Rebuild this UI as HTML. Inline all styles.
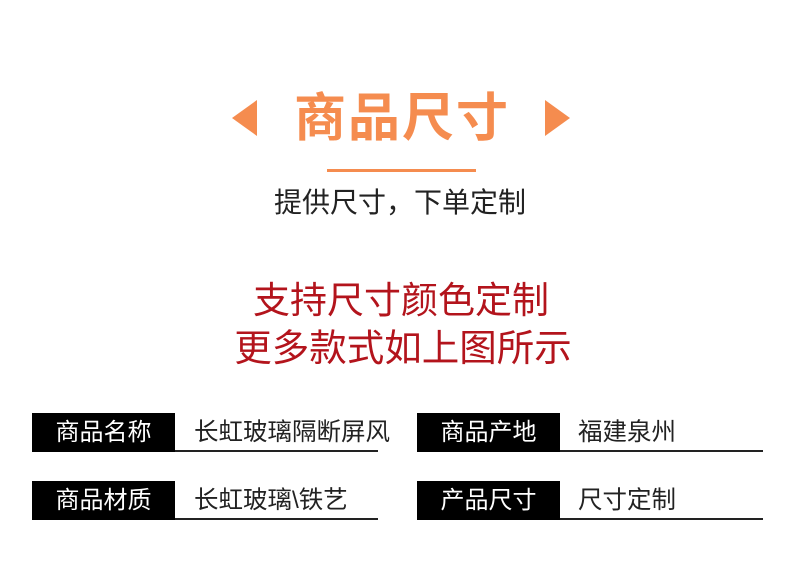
<!DOCTYPE html>
<html><head><meta charset="utf-8"><style>
body{margin:0;width:790px;height:561px;background:#fff;position:relative;overflow:hidden;font-family:"Liberation Sans","Noto Sans CJK SC",sans-serif}
.a{position:absolute}
.c{position:absolute;left:0;width:790px;text-align:center;white-space:nowrap}
.box{position:absolute;background:#000;color:#fff;font-size:24px;line-height:39px;text-align:center;width:143px;height:39px}
.val{position:absolute;font-size:24.5px;color:#222;line-height:39px;white-space:nowrap}
.ln{position:absolute;height:2px;background:#222}
</style></head><body>
<div class="a" style="left:232px;top:100px;width:0;height:0;border-top:18px solid transparent;border-bottom:18px solid transparent;border-right:25px solid #f58c4f"></div>
<div class="a" style="left:545px;top:100px;width:0;height:0;border-top:18px solid transparent;border-bottom:18px solid transparent;border-left:25px solid #f58c4f"></div>
<div class="c" style="top:84px;left:7px;font-size:52px;letter-spacing:2px;line-height:70px;color:#f58c4f;font-weight:bold">商品尺寸</div>
<div class="a" style="left:327px;top:169px;width:149px;height:3px;background:#f58c4f"></div>
<div class="c" style="top:185px;left:5px;font-size:28px;line-height:36px;color:#222">提供尺寸，下单定制</div>
<div class="c" style="top:279px;left:6px;font-size:37px;line-height:44px;color:#b3141c">支持尺寸颜色定制</div>
<div class="c" style="top:326px;left:8px;font-size:37.5px;line-height:44px;color:#b3141c">更多款式如上图所示</div>
<div class="box" style="left:32px;top:413px">商品名称</div>
<div class="val" style="left:194px;top:413px">长虹玻璃隔断屏风</div>
<div class="ln" style="left:175px;top:450px;width:203px"></div>
<div class="box" style="left:32px;top:481px">商品材质</div>
<div class="val" style="left:194px;top:481px">长虹玻璃\铁艺</div>
<div class="ln" style="left:175px;top:518px;width:203px"></div>
<div class="box" style="left:417px;top:413px">商品产地</div>
<div class="val" style="left:578px;top:413px">福建泉州</div>
<div class="ln" style="left:560px;top:450px;width:203px"></div>
<div class="box" style="left:417px;top:481px">产品尺寸</div>
<div class="val" style="left:578px;top:481px">尺寸定制</div>
<div class="ln" style="left:560px;top:518px;width:203px"></div>
</body></html>
